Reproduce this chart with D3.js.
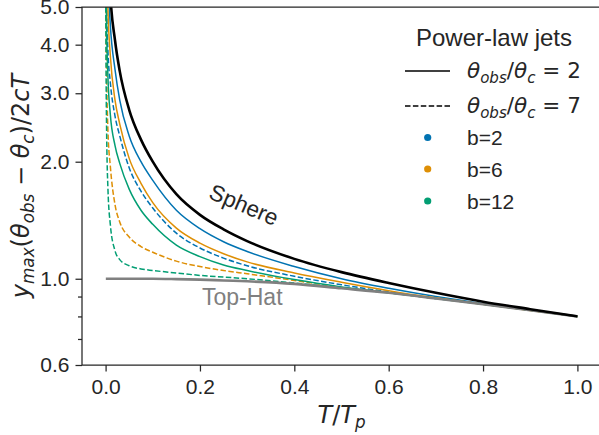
<!DOCTYPE html>
<html>
<head>
<meta charset="utf-8">
<script src="https://cdnjs.cloudflare.com/ajax/libs/d3/7.8.5/d3.min.js"></script>
<style>
  body { margin: 0; background: #fff; }
  svg { display: block; }
</style>
</head>
<body>
<div id="chart"></div>
<script>
// T/Tp sample points shared by every curve
var tGrid = [0.0005, 0.001, 0.002, 0.005, 0.01, 0.02, 0.03, 0.05, 0.075, 0.1, 0.15, 0.2, 0.25, 0.3, 0.4, 0.5, 0.6, 0.7, 0.8, 0.9, 1.0];

var sphere = [18, 14, 11, 7.5, 5.4, 4.1, 3.42, 2.72, 2.28, 2.0, 1.65, 1.46, 1.34, 1.25, 1.125, 1.04, 0.975, 0.92, 0.873, 0.835, 0.80];
var topHat = [1.0, 1.0, 1.0, 1.0, 1.0, 1.0, 1.0, 1.0, 1.0, 1.0, 0.998, 0.995, 0.99, 0.985, 0.97, 0.945, 0.92, 0.89, 0.86, 0.83, 0.80];

// theta_obs/theta_c = 2 (solid)
var b2Solid = [14, 10.5, 8.2, 6.0, 4.5, 3.45, 2.88, 2.33, 2.0, 1.79, 1.50, 1.345, 1.245, 1.175, 1.075, 1.0, 0.945, 0.9, 0.863, 0.83, 0.80];
var b6Solid = [11, 8.6, 7.0, 4.9, 3.75, 2.88, 2.5, 2.04, 1.76, 1.57, 1.35, 1.235, 1.16, 1.105, 1.035, 0.98, 0.932, 0.893, 0.86, 0.829, 0.80];
var b12Solid = [9, 6, 4.6, 3.3, 2.65, 2.2, 1.98, 1.70, 1.50, 1.38, 1.22, 1.14, 1.085, 1.05, 0.995, 0.953, 0.921, 0.89, 0.86, 0.83, 0.80];

// theta_obs/theta_c = 7 (dashed)
var b2Dash = [9, 6.5, 5.1, 3.85, 3.2, 2.62, 2.33, 1.93, 1.68, 1.52, 1.31, 1.2, 1.13, 1.08, 1.015, 0.965, 0.925, 0.89, 0.86, 0.829, 0.80];
var b6Dash = [6, 4.5, 3.5, 2.4, 1.95, 1.55, 1.40, 1.28, 1.21, 1.17, 1.11, 1.075, 1.05, 1.03, 0.99, 0.95, 0.921, 0.89, 0.86, 0.83, 0.80];
var b12Dash = [5, 3.5, 2.5, 1.7, 1.38, 1.18, 1.12, 1.08, 1.06, 1.05, 1.035, 1.02, 1.01, 1.0, 0.975, 0.947, 0.92, 0.89, 0.86, 0.83, 0.80];

var xTicks = [0, 0.2, 0.4, 0.6, 0.8, 1.0];
var yTicks = [0.6, 1, 2, 3, 4, 5];
var yMinor = [0.7, 0.8, 0.9];
var bLabels = ["b=2", "b=6", "b=12"];
var colors = ["#0173b2", "#de8f05", "#029e73"];

var W = 599, H = 435;
var pLeft = 82, pRight = 601, pTop = 7, pBottom = 365;
var ink = "#262626";
var sans = "Arial, 'Liberation Sans', sans-serif";
var math = "'DejaVu Sans', sans-serif";

var svg = d3.select("#chart").append("svg")
    .attr("width", W)
    .attr("height", H);

var x = d3.scaleLinear().domain([-0.05, 1.05]).range([pLeft, pRight]);
var y = d3.scaleLog().domain([0.6, 5]).range([pBottom, pTop]);

svg.append("clipPath").attr("id", "clip")
    .append("rect")
    .attr("x", pLeft).attr("y", pTop)
    .attr("width", pRight - pLeft).attr("height", pBottom - pTop);

var line = d3.line()
    .x(function (d, i) { return x(tGrid[i]); })
    .y(function (d) { return y(d); })
    .curve(d3.curveMonotoneX);

var curves = svg.append("g").attr("clip-path", "url(#clip)");

[b2Dash, b6Dash, b12Dash].forEach(function (s, i) {
    curves.append("path")
        .attr("d", line(s))
        .attr("fill", "none")
        .attr("stroke", colors[i])
        .attr("stroke-width", 1.5)
        .attr("stroke-dasharray", "5.5,2.4");
});
[b2Solid, b6Solid, b12Solid].forEach(function (s, i) {
    curves.append("path")
        .attr("d", line(s))
        .attr("fill", "none")
        .attr("stroke", colors[i])
        .attr("stroke-width", 1.5);
});
curves.append("path")
    .attr("d", line(topHat))
    .attr("fill", "none")
    .attr("stroke", "#808080")
    .attr("stroke-width", 2.6);
curves.append("path")
    .attr("d", line(sphere))
    .attr("fill", "none")
    .attr("stroke", "#000")
    .attr("stroke-width", 2.6);

// axes
var xAxis = svg.append("g")
    .attr("transform", "translate(0," + pBottom + ")")
    .call(d3.axisBottom(x).tickValues(xTicks).tickFormat(d3.format(".1f")).tickSize(6.5).tickPadding(8));
var yAxis = svg.append("g")
    .attr("transform", "translate(" + pLeft + ",0)")
    .call(d3.axisLeft(y).tickValues(yTicks).tickFormat(d3.format(".1f")).tickSize(6.5).tickPadding(6));
var yAxisMinor = svg.append("g")
    .attr("transform", "translate(" + pLeft + ",0)")
    .call(d3.axisLeft(y).tickValues(yMinor).tickFormat("").tickSize(4));

[xAxis, yAxis, yAxisMinor].forEach(function (a) {
    a.select(".domain").remove();
    a.selectAll("line").attr("stroke", ink).attr("stroke-width", 1.25);
    a.selectAll("text").attr("fill", ink).style("font-family", sans).style("font-size", "21px");
});

// spines
svg.append("path")
    .attr("d", "M" + pRight + "," + pTop + "H" + pLeft + "V" + pBottom + "H" + pRight)
    .attr("fill", "none")
    .attr("stroke", ink)
    .attr("stroke-width", 1.25);

// mathtext helper: parts are [text, kind], kind: i italic, r roman, s subscript italic
function mathText(sel, parts, size) {
    var shift = 0;
    parts.forEach(function (p) {
        var want = p[1] === "s" ? 0.22 * size : 0;
        sel.append("tspan")
            .attr("dy", want - shift)
            .style("font-size", (p[1] === "s" ? 0.7 * size : size) + "px")
            .style("font-style", p[1] === "r" ? "normal" : "italic")
            .text(p[0]);
        shift = want;
    });
}

var xl = svg.append("text")
    .attr("x", (pLeft + pRight) / 2)
    .attr("y", 423)
    .attr("text-anchor", "middle")
    .attr("fill", ink)
    .style("font-family", math);
mathText(xl, [["T", "i"], ["/", "r"], ["T", "i"], ["p", "s"]], 24);

var yl = svg.append("text")
    .attr("transform", "translate(29," + (pTop + pBottom) / 2 + ") rotate(-90)")
    .attr("text-anchor", "middle")
    .attr("fill", ink)
    .style("font-family", math);
mathText(yl, [["y", "i"], ["max", "s"], ["(", "r"], ["\u03B8", "i"], ["obs", "s"],
    [" \u2212 ", "r"], ["\u03B8", "i"], ["c", "s"], [")/2", "r"], ["cT", "i"]], 24);

// annotations
svg.append("text")
    .attr("transform", "translate(241,212) rotate(23)")
    .attr("text-anchor", "middle")
    .attr("fill", ink)
    .style("font-family", sans)
    .style("font-size", "22.5px")
    .text("Sphere");
svg.append("text")
    .attr("x", 202)
    .attr("y", 305)
    .attr("fill", "#808080")
    .style("font-family", sans)
    .style("font-size", "23px")
    .text("Top-Hat");

// legend
var lg = svg.append("g");
lg.append("text")
    .attr("x", 494).attr("y", 46)
    .attr("text-anchor", "middle")
    .attr("fill", ink)
    .style("font-family", sans)
    .style("font-size", "24px")
    .text("Power-law jets");

[["2", 71, null], ["7", 106, "5.5,2.4"]].forEach(function (r) {
    lg.append("line")
        .attr("x1", 405).attr("x2", 450)
        .attr("y1", r[1]).attr("y2", r[1])
        .attr("stroke", "#000")
        .attr("stroke-width", 1.5)
        .attr("stroke-dasharray", r[2]);
    var t = lg.append("text")
        .attr("x", 467).attr("y", r[1] + 7)
        .attr("fill", ink)
        .style("font-family", math);
    mathText(t, [["\u03B8", "i"], ["obs", "s"], ["/", "r"], ["\u03B8", "i"], ["c", "s"], [" = " + r[0], "r"]], 21.5);
});

var rowY = [137.5, 169, 201];
bLabels.forEach(function (b, i) {
    lg.append("circle")
        .attr("cx", 427.7).attr("cy", rowY[i])
        .attr("r", 3.6)
        .attr("fill", colors[i]);
    lg.append("text")
        .attr("x", 467).attr("y", rowY[i] + 7.5)
        .attr("fill", ink)
        .style("font-family", sans)
        .style("font-size", "21px")
        .text(b);
});
</script>
</body>
</html>
